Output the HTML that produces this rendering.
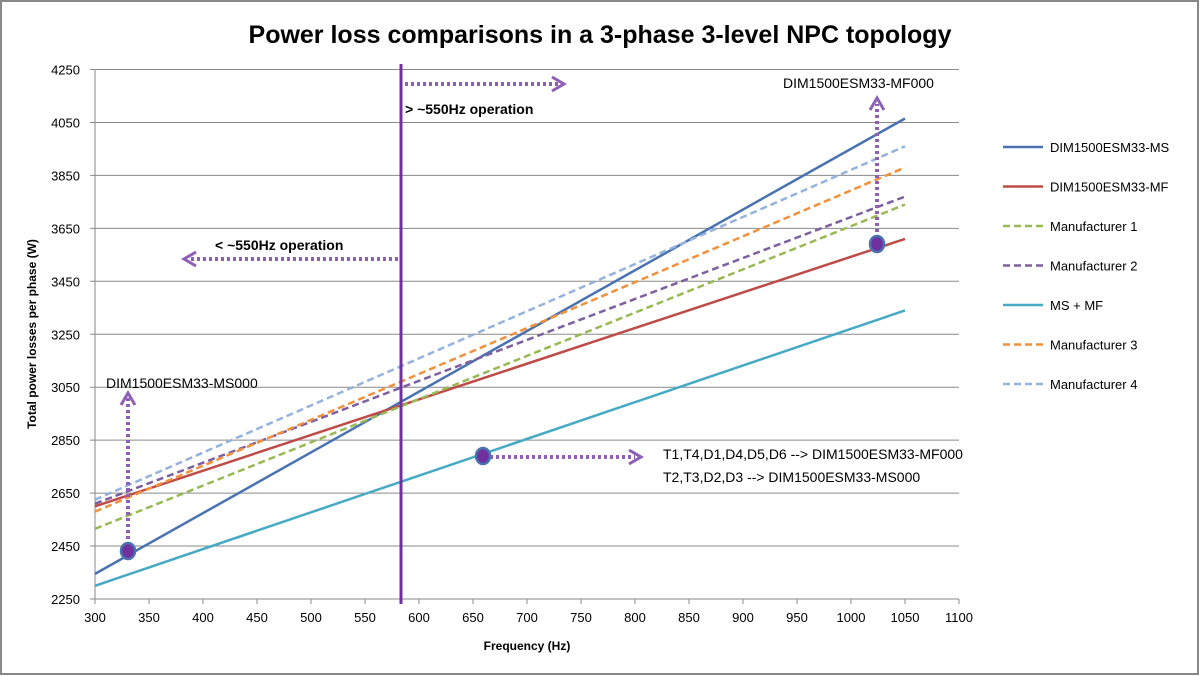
<!DOCTYPE html>
<html><head><meta charset="utf-8"><style>
body{margin:0;background:#fff}
svg{display:block;font-family:"Liberation Sans",sans-serif}
</style></head><body>
<svg id="c" width="1200" height="676" viewBox="0 0 1200 676">
<rect x="1" y="1" width="1197" height="673" fill="#fff" stroke="#888" stroke-width="2"/>
<text x="600" y="43" text-anchor="middle" font-size="25" font-weight="bold" fill="#000">Power loss comparisons in a 3-phase 3-level NPC topology</text>
<g id="grid"></g><g id="axes"></g><g id="series"></g><g id="annot"></g><g id="legend"></g>
<text transform="translate(36,334) rotate(-90)" text-anchor="middle" font-size="12" font-weight="bold">Total power losses per phase (W)</text>
<text x="527" y="650" text-anchor="middle" font-size="12" font-weight="bold">Frequency (Hz)</text>
</svg>
<script>
const xTicks=[300,350,400,450,500,550,600,650,700,750,800,850,900,950,1000,1050,1100];
const yTicks=[2250,2450,2650,2850,3050,3250,3450,3650,3850,4050,4250];
const seriesNames=["DIM1500ESM33-MS","DIM1500ESM33-MF","Manufacturer 1","Manufacturer 2","MS + MF","Manufacturer 3","Manufacturer 4"];
const seriesX=[300,1050];
const msVals=[2345,4065];
const mfVals=[2600,3610];
const m1Vals=[2515,3740];
const m2Vals=[2610,3770];
const msmfVals=[2300,3340];
const m3Vals=[2580,3880];
const m4Vals=[2625,3960];
const allVals=[msVals,mfVals,m1Vals,m2Vals,msmfVals,m3Vals,m4Vals];
const colors=["#4a72b0","#be4b48","#98b954","#7d60a0","#46aac5","#f0913c","#95b3dc"];
const dashed=[false,false,true,true,false,true,true];
const X0=95,X1=959,Y0=599,Y1=69.5;
const xs=v=>X0+(v-300)/800*(X1-X0);
const ys=v=>Y0-(v-2250)/2000*(Y0-Y1);
const NS="http://www.w3.org/2000/svg";
function mk(tag,attrs,parent,txt){const e=document.createElementNS(NS,tag);for(const k in attrs)e.setAttribute(k,attrs[k]);if(txt!=null)e.textContent=txt;document.getElementById(parent).appendChild(e);return e;}
yTicks.forEach(t=>{
 let l=mk('line',{x1:X0-5,x2:X1,y1:ys(t),y2:ys(t),stroke:'#8a8a8a','stroke-width':1},'grid');
 
 
 let tx=mk('text',{x:80,y:ys(t)+5,'text-anchor':'end','font-size':13},'axes',t);
 
 
});
xTicks.forEach(t=>{
 let l=mk('line',{x1:xs(t),x2:xs(t),y1:Y0,y2:Y0+5,stroke:'#8a8a8a'},'axes');
 
 
 let tx=mk('text',{x:xs(t),y:Y0+23,'text-anchor':'middle','font-size':13},'axes',t);
 
 
});
let ya=mk('line',{x1:X0,x2:X0,y1:Y1,y2:Y0,stroke:'#8a8a8a'},'axes');


allVals.forEach((vals,i)=>{
 let l=mk('line',{x1:xs(seriesX[0]),y1:ys(vals[0]),x2:xs(seriesX[1]),y2:ys(vals[1]),stroke:colors[i],'stroke-width':2.5,'stroke-dasharray':dashed[i]?'7,4':'none'},'series');
 
 
 let ly=147+i*39.5;
 let ll=mk('line',{x1:1003,x2:1043,y1:ly,y2:ly,stroke:colors[i],'stroke-width':2.5,'stroke-dasharray':dashed[i]?'7,4':'none'},'legend');
 
 
 let lt=mk('text',{x:1050,y:ly+5,'font-size':13},'legend',seriesNames[i]);
 
 
});
const P='#8e5fb5';
function dotted(x1,y1,x2,y2,name){let l=mk('line',{x1,y1,x2,y2,stroke:P,'stroke-width':4,'stroke-dasharray':'3,3'},'annot');}
function head(pts,name){let p=mk('polyline',{points:pts,fill:'none',stroke:P,'stroke-width':3},'annot');}
let vl=mk('line',{x1:401,x2:401,y1:64,y2:604,stroke:'#7030a0','stroke-width':3},'annot');


dotted(405,84,558,84,'arrow-above-550');head('552,77 564,84 552,91','arrow-head');
dotted(398,259,190,259,'arrow-below-550');head('196,252 184,259 196,266','arrow-head');
dotted(128,545,128,398,'arrow-ms000');head('121,405 128,393 135,405','arrow-head');
dotted(877,238,877,104,'arrow-mf000');head('870,110 877,98 884,110','arrow-head');
dotted(490,457,635,457,'arrow-msmf');head('629,450 641,457 629,464','arrow-head');
[[128,551],[877,244],[483,456]].forEach(p=>{let e=mk('ellipse',{cx:p[0],cy:p[1],rx:7,ry:8,fill:'#7030a0',stroke:'#4a72b0','stroke-width':2.5},'annot');});
const notes=[[405,114,"> ~550Hz operation",'bold'],[215,250,"< ~550Hz operation",'bold'],[106,388,"DIM1500ESM33-MS000",'normal'],[783,88,"DIM1500ESM33-MF000",'normal'],[663,459,"T1,T4,D1,D4,D5,D6  --> DIM1500ESM33-MF000",'normal'],[663,482,"T2,T3,D2,D3 --> DIM1500ESM33-MS000",'normal']];
notes.forEach(n=>{let t=mk('text',{x:n[0],y:n[1],'font-size':14,'font-weight':n[3]},'annot',n[2]);});
</script>
</body></html>
